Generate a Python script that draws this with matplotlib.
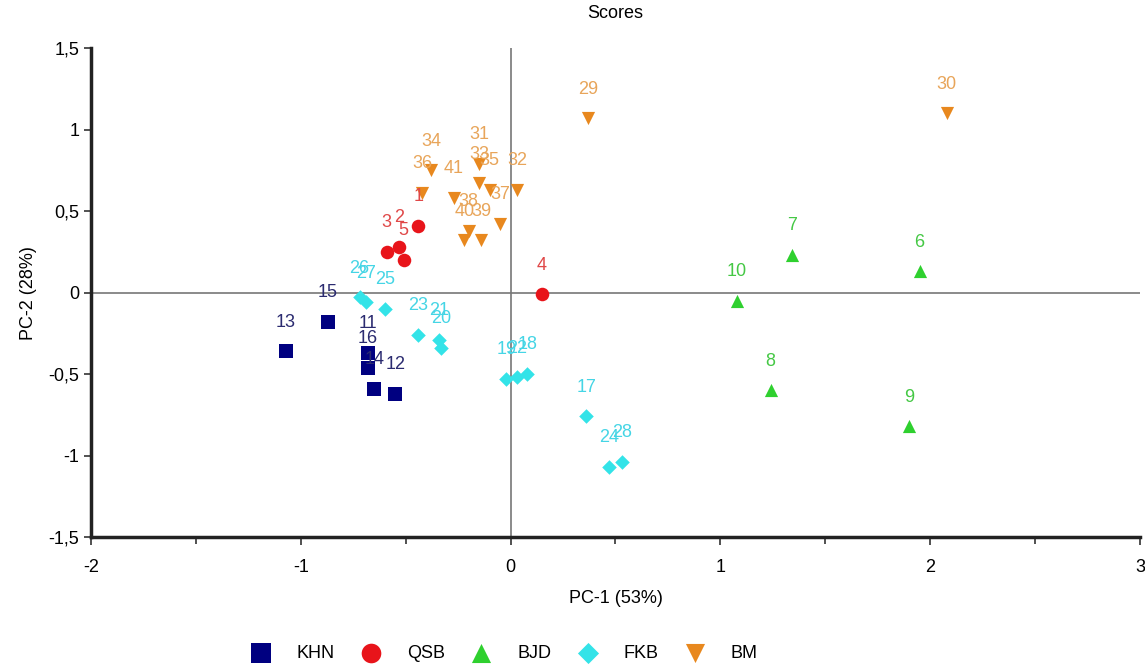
import matplotlib
matplotlib.use("Agg")
import matplotlib.pyplot as plt
from matplotlib.ticker import FuncFormatter, MultipleLocator

plt.rcParams['font.family'] = ['Liberation Sans', 'DejaVu Sans']

# scores, per group
khn_x = [-1.07, -0.87, -0.68, -0.68, -0.65, -0.55]
khn_y = [-0.36, -0.18, -0.37, -0.46, -0.59, -0.62]
khn_lab = ["13", "15", "11", "16", "14", "12"]

qsb_x = [-0.44, -0.53, -0.59, -0.51, 0.15]
qsb_y = [0.41, 0.28, 0.25, 0.20, -0.01]
qsb_lab = ["1", "2", "3", "5", "4"]

bjd_x = [1.95, 1.34, 1.24, 1.90, 1.08]
bjd_y = [0.13, 0.23, -0.60, -0.82, -0.05]
bjd_lab = ["6", "7", "8", "9", "10"]

fkb_x = [0.36, 0.08, -0.02, -0.33, -0.34, 0.03, -0.44, 0.47, -0.60, -0.72, -0.69, 0.53]
fkb_y = [-0.76, -0.50, -0.53, -0.34, -0.29, -0.52, -0.26, -1.07, -0.10, -0.03, -0.06, -1.04]
fkb_lab = ["17", "18", "19", "20", "21", "22", "23", "24", "25", "26", "27", "28"]

bm_x = [0.37, 2.08, -0.15, 0.03, -0.15, -0.38, -0.10, -0.42, -0.05, -0.20, -0.14, -0.22, -0.27]
bm_y = [1.07, 1.10, 0.79, 0.63, 0.67, 0.75, 0.63, 0.61, 0.42, 0.38, 0.32, 0.32, 0.58]
bm_lab = ["29", "30", "31", "32", "33", "34", "35", "36", "37", "38", "39", "40", "41"]

groups = [
    ("KHN", khn_x, khn_y, khn_lab, "s", "#000080", "#2b2b70", 95),
    ("QSB", qsb_x, qsb_y, qsb_lab, "o", "#e8141a", "#e04848", 95),
    ("BJD", bjd_x, bjd_y, bjd_lab, "^", "#2fd02f", "#45c845", 90),
    ("FKB", fkb_x, fkb_y, fkb_lab, "D", "#33e3e8", "#45d5e5", 55),
    ("BM", bm_x, bm_y, bm_lab, "v", "#e8881e", "#e8a55a", 90),
]

fig = plt.figure(figsize=(11.45, 6.68), dpi=100)
ax = fig.add_axes([0.0795, 0.196, 0.916, 0.732])

ax.axhline(0, color="#777777", lw=1.2, zorder=1)
ax.axvline(0, color="#777777", lw=1.2, zorder=1)

for name, xs, ys, labs, mk, col, tcol, s in groups:
    ax.scatter(xs, ys, marker=mk, s=s, color=col, label=name, zorder=3, linewidths=0)
    for x, y, t in zip(xs, ys, labs):
        ax.annotate(t, (x, y), xytext=(0, 21), textcoords="offset points",
                    ha="center", va="center", fontsize=13, color=tcol, zorder=4)

ax.set_xlim(-2, 3)
ax.set_ylim(-1.5, 1.5)
ax.xaxis.set_major_locator(MultipleLocator(1))
ax.xaxis.set_minor_locator(MultipleLocator(0.5))
ax.yaxis.set_major_locator(MultipleLocator(0.5))
fmt = FuncFormatter(lambda v, p: f"{v:g}".replace(".", ","))
ax.xaxis.set_major_formatter(fmt)
ax.yaxis.set_major_formatter(fmt)
ax.tick_params(axis="both", which="both", direction="out", labelsize=13, color="#333333")
ax.tick_params(axis="x", which="major", length=6, width=1.2, pad=10)
ax.tick_params(axis="x", which="minor", length=5, width=1.2)
ax.tick_params(axis="y", length=5, width=1.2)

for side in ["top", "right"]:
    ax.spines[side].set_visible(False)
for side in ["left", "bottom"]:
    ax.spines[side].set_linewidth(2.5)
    ax.spines[side].set_color("#222222")

ax.set_title("Scores", fontsize=13, pad=22)
ax.set_xlabel("PC-1 (53%)", fontsize=13, labelpad=10)
ax.set_ylabel("PC-2 (28%)", fontsize=13, labelpad=8)

fig.legend(loc="lower center", bbox_to_anchor=(0.437, -0.015), ncol=5, frameon=False,
           fontsize=13, handletextpad=1.0, columnspacing=1.0, markerscale=1.45)

fig.savefig("out.png", dpi=100)
